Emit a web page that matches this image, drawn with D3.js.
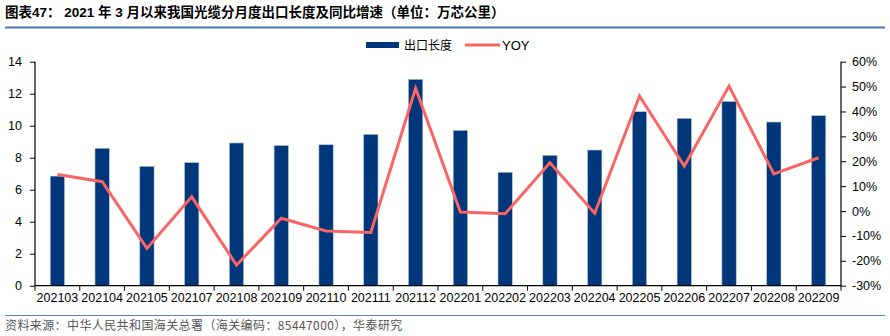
<!DOCTYPE html>
<html><head><meta charset="utf-8">
<script src="https://cdn.jsdelivr.net/npm/d3@7"></script>
<style>body{margin:0;background:#fff}svg{display:block}</style>
</head><body>
<script>
const categories=["202103","202104","202105","202107","202108","202109","202110","202111","202112","202201","202202","202203","202204","202205","202206","202207","202208","202209"];
const exportLength=[6.85,8.59,7.46,7.69,8.92,8.76,8.81,9.46,12.9,9.71,7.09,8.15,8.48,10.88,10.46,11.52,10.23,10.63];
const yoy=[14.7,11.8,-15.0,5.7,-21.7,-2.9,-8.0,-8.6,49.3,-0.4,-1.1,19.4,-0.9,46.2,18.1,50.2,14.9,21.4];
const leftTicks=[0,2,4,6,8,10,12,14];
const rightTicks=[-30,-20,-10,0,10,20,30,40,50,60];
const title="图表47：  2021 年 3 月以来我国光缆分月度出口长度及同比增速（单位：万芯公里）";
const source="资料来源：中华人民共和国海关总署（海关编码：85447000），华泰研究";

const W=890,H=336;
const svg=d3.select("body").append("svg").attr("width",W).attr("height",H);
const font="Arial, 'Liberation Sans', 'Noto Sans CJK SC', sans-serif";
const barColor="#00367a", lineColor="#f96464";

svg.append("text").attr("x",5).attr("y",17).text(title)
  .attr("font-family",font).attr("font-weight","bold").attr("font-size",13.5).attr("fill","#000");
svg.append("line").attr("x1",5).attr("x2",885).attr("y1",27.5).attr("y2",27.5).attr("stroke","#4a76b0").attr("stroke-width",2);
svg.append("line").attr("x1",5).attr("x2",885).attr("y1",315.5).attr("y2",315.5).attr("stroke","#5a86c0").attr("stroke-width",1);
svg.append("text").attr("x",5).attr("y",330).text(source)
  .attr("font-family","'Noto Sans CJK SC', sans-serif").attr("font-size",12).attr("letter-spacing",0.4).attr("fill","#555");

const x0=35,x1=841,yTop=61.7,yBot=285.7;
const x=d3.scaleBand().domain(categories).range([x0,x1]).paddingInner(0.68).paddingOuter(0.34);
const xc=d3.scalePoint().domain(categories).range([x0,x1]).padding(0.5);
const yL=d3.scaleLinear().domain([0,14]).range([yBot,yTop]);
const yR=d3.scaleLinear().domain([-30,60]).range([yBot,yTop]);

// bars
svg.append("g").selectAll("rect").data(categories).join("rect")
  .attr("x",d=>x(d)).attr("width",x.bandwidth())
  .attr("y",(d,i)=>yL(exportLength[i])).attr("height",(d,i)=>yBot-yL(exportLength[i]))
  .attr("fill",barColor).attr("stroke","#b8c2d8").attr("stroke-width",0.6);

// line
const line=d3.line().x((d,i)=>xc(categories[i])).y(d=>yR(d));
svg.append("path").datum(yoy).attr("d",line).attr("fill","none")
  .attr("stroke",lineColor).attr("stroke-width",3).attr("stroke-linejoin","miter");

// axes
const axL=svg.append("g").attr("transform",`translate(${x0},0)`)
  .call(d3.axisLeft(yL).tickValues(leftTicks).tickSize(5).tickPadding(8));
const axR=svg.append("g").attr("transform",`translate(${x1},0)`)
  .call(d3.axisRight(yR).tickValues(rightTicks).tickSize(5).tickPadding(6).tickFormat(d=>d+"%"));
const axX=svg.append("g").attr("transform",`translate(0,${yBot})`)
  .call(d3.axisBottom(x).tickSize(0).tickPadding(7));
// category boundary ticks
const bstep=(x1-x0)/categories.length;
axX.selectAll("line.bt").data(d3.range(categories.length+1)).join("line").attr("class","bt")
  .attr("x1",i=>x0+i*bstep).attr("x2",i=>x0+i*bstep).attr("y1",0).attr("y2",5).attr("stroke","#000");
[axL,axR,axX].forEach(a=>{
  a.selectAll("text").attr("font-family",font).attr("font-size",12.5).attr("fill","#000");
  a.selectAll("path.domain").attr("stroke","#000").attr("stroke-width",1.2);
  a.selectAll(".tick line").attr("stroke","#000");
});
axL.select("path.domain").attr("d",`M0,${yTop}V${yBot}`);
axR.select("path.domain").attr("d",`M0,${yTop}V${yBot}`);
axX.select("path.domain").attr("d",`M${x0},0H${x1}`);

// legend
const lg=svg.append("g");
lg.append("rect").attr("x",366).attr("y",42).attr("width",33).attr("height",6).attr("fill",barColor);
lg.append("text").attr("x",404).attr("y",50).text("出口长度").attr("font-family","'Noto Sans CJK SC', sans-serif").attr("font-size",12).attr("fill","#000");
lg.append("line").attr("x1",465).attr("x2",500).attr("y1",45).attr("y2",45).attr("stroke",lineColor).attr("stroke-width",3);
lg.append("text").attr("x",502).attr("y",50).text("YOY").attr("font-family",font).attr("font-size",13).attr("fill","#000");
</script>
</body></html>
